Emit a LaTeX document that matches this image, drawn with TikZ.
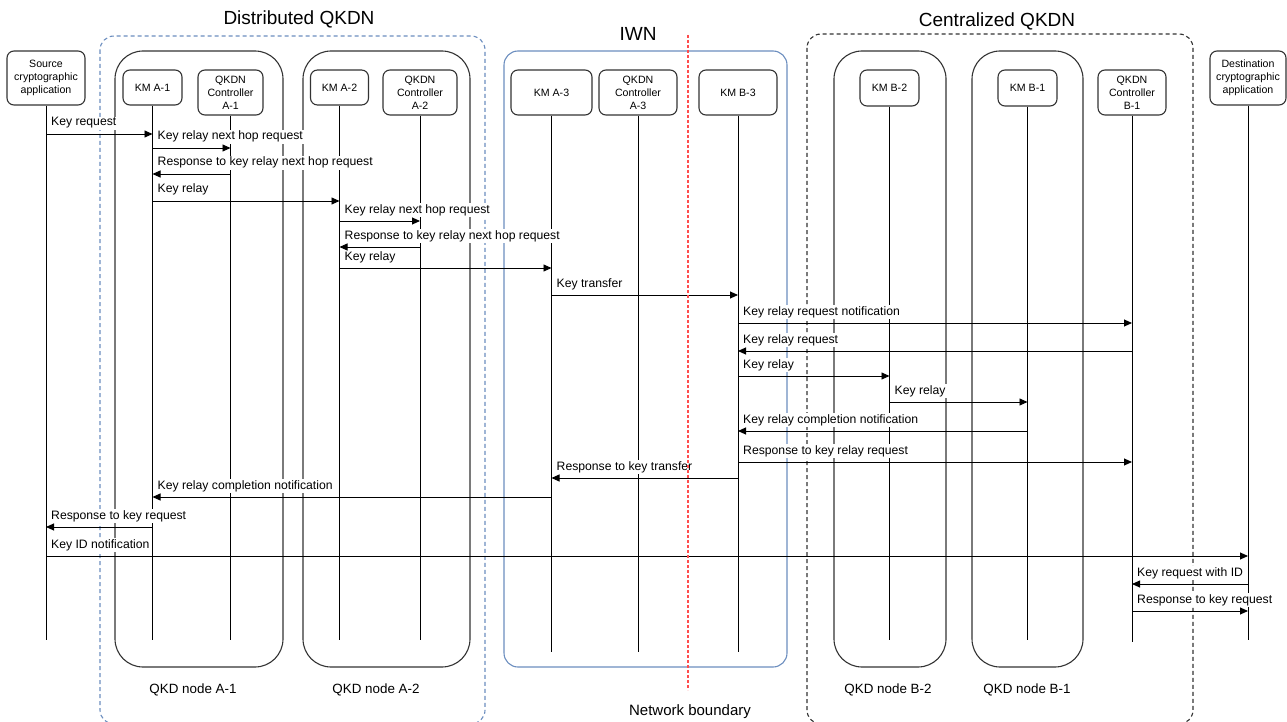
\documentclass[tikz,border=0pt]{standalone}
\usepackage{fontspec}
\setmainfont{Liberation Sans}
\usetikzlibrary{arrows.meta}
\definecolor{grpblue}{HTML}{6C8EBF}
\definecolor{bdred}{HTML}{FF4D4D}
\definecolor{boxgray}{HTML}{333333}
\tikzset{
  part/.style={draw=boxgray, line width=1.1pt, rounded corners=7pt, align=center,
    font=\fontsize{10.6}{13}\selectfont, inner sep=0pt},
  qkdnode/.style={draw=boxgray, line width=1.1pt, rounded corners=28pt},
  iwnbox/.style={draw=grpblue, line width=1.1pt, rounded corners=14pt},
  distbox/.style={draw=grpblue, line width=1.1pt, rounded corners=14pt, dash pattern=on 4pt off 3pt},
  centbox/.style={draw=boxgray, line width=1.1pt, rounded corners=14pt, dash pattern=on 4pt off 3pt},
  boundary/.style={draw=bdred, line width=1.2pt, dash pattern=on 3pt off 2pt},
  life/.style={draw=black, line width=0.9pt},
  msgline/.style={draw=black, line width=0.9pt, -{Triangle[length=8pt,width=7pt]}},
  lbl/.style={fill=white, inner sep=1pt, anchor=base west, font=\fontsize{12.2}{14}\selectfont},
  title/.style={font=\fontsize{19}{22}\selectfont},
  nodelbl/.style={font=\fontsize{13.4}{16}\selectfont},
}
% #1 left participant, #2 y, #3 label
\newcommand\seqlabel[3]{\path (#1 |- 0,#2) ++(4,-8) node[lbl] {#3};}
% #1 from, #2 to, #3 y
\newcommand\seqarrow[3]{\draw[msgline] (#1 |- 0,#3) -- (#2 |- 0,#3);}
\begin{document}
\begin{tikzpicture}[x=1pt,y=-1pt]
\useasboundingbox (0,0) rectangle (1287,722);
% group boxes
\draw[distbox] (100,36) rectangle (485,724);
\draw[centbox] (807,34) rectangle (1193,724);
\draw[iwnbox] (504,51) rectangle (787,667);
\draw[qkdnode] (115,51) rectangle (283,667);
\draw[qkdnode] (303,51) rectangle (470,667);
\draw[qkdnode] (834,51) rectangle (946,667);
\draw[qkdnode] (972,51) rectangle (1083,667);
% titles
\node[title] (tdist) at (299,19) {Distributed QKDN};
\node[title] (tiwn) at (638,34) {IWN};
\node[title] (tcent) at (997,21) {Centralized QKDN};
\node[nodelbl] (la1) at (193,690) {QKD node A-1};
\node[nodelbl] (la2) at (376,690) {QKD node A-2};
\node[nodelbl] (lb2) at (888,690) {QKD node B-2};
\node[nodelbl] (lb1) at (1027,690) {QKD node B-1};
\node[font=\fontsize{15}{18}\selectfont] (lnb) at (690,712) {Network boundary};
% participants
\node[part, minimum width=78pt, minimum height=54pt] (src) at (46,78) {Source\\cryptographic\\application};
\node[part, minimum width=59pt, minimum height=35pt] (kma1) at (152.5,87.5) {KM A-1};
\node[part, minimum width=65pt, minimum height=45pt] (ca1) at (230.5,92.5) {QKDN\\Controller\\A-1};
\node[part, minimum width=58pt, minimum height=35pt] (kma2) at (339.5,87.5) {KM A-2};
\node[part, minimum width=74pt, minimum height=45pt] (ca2) at (420,92.5) {QKDN\\Controller\\A-2};
\node[part, minimum width=81pt, minimum height=45pt] (kma3) at (551.5,92.5) {KM A-3};
\node[part, minimum width=78pt, minimum height=45pt] (ca3) at (638,92.5) {QKDN\\Controller\\A-3};
\node[part, minimum width=78pt, minimum height=45pt] (kmb3) at (738,92.5) {KM B-3};
\node[part, minimum width=59pt, minimum height=36pt] (kmb2) at (889.5,88) {KM B-2};
\node[part, minimum width=59pt, minimum height=36pt] (kmb1) at (1027.5,88) {KM B-1};
\node[part, minimum width=68pt, minimum height=45pt] (cb1) at (1132,92.5) {QKDN\\Controller\\B-1};
\node[part, minimum width=76pt, minimum height=54pt] (dst) at (1248,78) {Destination\\cryptographic\\application};
% lifelines
\foreach \p/\e in {src/640,kma1/640,ca1/640,kma2/640,ca2/640,kma3/652,ca3/652,kmb3/652,kmb2/640,kmb1/640,cb1/642,dst/640}{
  \coordinate (\p-end) at (\p |- 0,\e);
  \draw[life] (\p.south) -- (\p-end);
}
% labels
\seqlabel{src}{134}{Key request}
\seqlabel{kma1}{148}{Key relay next hop request}
\seqlabel{kma1}{174}{Response to key relay next hop request}
\seqlabel{kma1}{201}{Key relay}
\seqlabel{kma2}{221}{Key relay next hop request}
\seqlabel{kma2}{247}{Response to key relay next hop request}
\seqlabel{kma2}{268}{Key relay}
\seqlabel{kma3}{295}{Key transfer}
\seqlabel{kmb3}{323}{Key relay request notification}
\seqlabel{kmb3}{351}{Key relay request}
\seqlabel{kmb3}{376}{Key relay}
\seqlabel{kmb2}{402}{Key relay}
\seqlabel{kmb3}{431}{Key relay completion notification}
\seqlabel{kmb3}{462}{Response to key relay request}
\seqlabel{kma3}{478}{Response to key transfer}
\seqlabel{kma1}{497}{Key relay completion notification}
\seqlabel{src}{527}{Response to key request}
\seqlabel{src}{556}{Key ID notification}
\seqlabel{cb1}{584}{Key request with ID}
\seqlabel{cb1}{611}{Response to key request}
% arrows
\seqarrow{src}{kma1}{134}
\seqarrow{kma1}{ca1}{148}
\seqarrow{ca1}{kma1}{174}
\seqarrow{kma1}{kma2}{201}
\seqarrow{kma2}{ca2}{221}
\seqarrow{ca2}{kma2}{247}
\seqarrow{kma2}{kma3}{268}
\seqarrow{kma3}{kmb3}{295}
\seqarrow{kmb3}{cb1}{323}
\seqarrow{cb1}{kmb3}{351}
\seqarrow{kmb3}{kmb2}{376}
\seqarrow{kmb2}{kmb1}{402}
\seqarrow{kmb1}{kmb3}{431}
\seqarrow{kmb3}{cb1}{462}
\seqarrow{kmb3}{kma3}{478}
\seqarrow{kma3}{kma1}{497}
\seqarrow{kma1}{src}{527}
\seqarrow{src}{dst}{556}
\seqarrow{dst}{cb1}{584}
\seqarrow{cb1}{dst}{611}
% network boundary
\coordinate (nbtop) at (688,35);
\coordinate (nbbot) at (688,690);
\draw[boundary] (nbtop) -- (nbbot);
\end{tikzpicture}
\end{document}
